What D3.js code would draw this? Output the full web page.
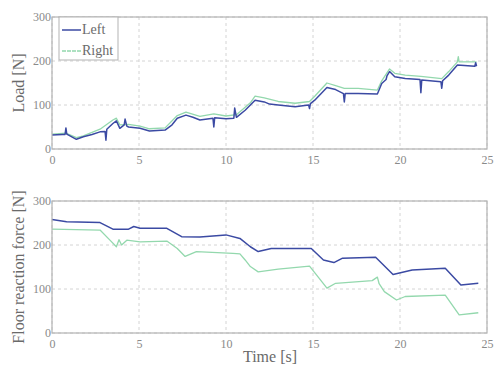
<!DOCTYPE html>
<html>
<head>
<meta charset="utf-8">
<script src="https://cdn.jsdelivr.net/npm/d3@7"></script>
<style>
  body { margin: 0; background: #fff; }
</style>
</head>
<body>
<svg id="chart" width="495" height="365"></svg>
<script>
// time [s] and load [N], top panel
const loadLeftT = [0, 0.6, 0.75, 0.8, 0.85, 1.4, 1.8, 2.3, 2.76, 3.05, 3.1, 3.15, 3.5, 3.7, 3.9, 4.15, 4.2, 4.3, 4.4, 5.06, 5.6, 6.5, 6.9, 7.2, 7.7, 8.1, 8.5, 9.25, 9.3, 9.35, 10.0, 10.45, 10.5, 10.6, 11.1, 11.4, 11.67, 12.2, 12.5, 13.0, 13.97, 14.75, 14.8, 14.85, 15.1, 15.8, 16.3, 16.75, 16.8, 16.85, 17.6, 18.7, 18.95, 19.2, 19.25, 19.4, 19.7, 20.3, 21.15, 21.2, 21.25, 22.35, 22.4, 22.45, 22.8, 23.3, 24.3, 24.35, 24.4];
const loadLeftV = [32, 33, 33, 48, 34, 22, 28, 33, 39, 40, 20, 45, 58, 64, 47, 55, 68, 52, 50, 47, 41, 43, 55, 70, 77, 72, 66, 70, 50, 71, 69, 70, 93, 72, 88, 100, 111, 107, 102, 100, 96, 100, 92, 103, 111, 140, 135, 126, 107, 126, 126, 125, 149, 158, 166, 176, 164, 160, 158, 128, 157, 153, 138, 155, 168, 191, 188, 196, 188];
const loadRightT = [0, 0.8, 1.4, 1.8, 2.76, 3.5, 3.7, 3.9, 4.4, 5.06, 5.6, 6.5, 7.2, 7.7, 8.5, 9.3, 10.0, 10.6, 11.1, 11.4, 11.67, 12.2, 13.0, 13.97, 14.8, 15.1, 15.8, 16.3, 16.8, 17.6, 18.7, 18.95, 19.4, 19.7, 20.3, 21.2, 22.4, 22.8, 23.3, 23.35, 23.4, 24.4];
const loadRightV = [34, 36, 26, 30, 45, 66, 70, 55, 56, 52, 46, 48, 76, 84, 74, 80, 75, 78, 95, 105, 120, 116, 108, 104, 108, 120, 150, 144, 138, 138, 134, 155, 182, 172, 168, 165, 160, 176, 198, 210, 198, 198];

// floor reaction force [N], bottom panel
const forceLeftT = [0, 0.84, 2.76, 3.5, 4.4, 4.7, 5.06, 6.6, 7.45, 8.5, 10.0, 10.8, 11.4, 11.85, 12.6, 13.97, 14.9, 15.6, 16.2, 16.7, 18.6, 19.6, 20.7, 22.6, 23.5, 24.5];
const forceLeftV = [258, 253, 251, 236, 236, 242, 238, 238, 219, 218, 223, 215, 196, 185, 192, 192, 192, 166, 160, 170, 172, 133, 143, 147, 109, 113];
const forceRightT = [0, 2.76, 3.33, 3.7, 3.85, 4.0, 4.3, 5.06, 6.6, 7.2, 7.65, 8.3, 10.4, 10.8, 11.1, 11.4, 11.85, 13.0, 14.8, 15.2, 15.8, 16.3, 18.4, 18.7, 18.8, 19.1, 19.8, 20.3, 22.6, 23.4, 24.5];
const forceRightV = [236, 234, 211, 196, 212, 200, 211, 207, 209, 192, 174, 185, 181, 180, 166, 151, 139, 145, 152, 132, 102, 113, 119, 127, 112, 94, 75, 83, 86, 41, 46];

const xTicks = [0, 5, 10, 15, 20, 25];
const yTicks = [0, 100, 200, 300];
const legendLabels = ["Left", "Right"];

const leftColor = "#3b4aa3";
const rightColor = "#93d8ad";
const serif = "'Liberation Serif', 'Times New Roman', serif";
const textColor = "#6a6a6a";
const tickColor = "#8a8a8a";

const svg = d3.select("#chart");
const x = d3.scaleLinear().domain([0, 25]).range([52, 487]);

function panel(top, bottom, series, ylabel, showLegend, xlabel) {
  const y = d3.scaleLinear().domain([0, 300]).range([bottom, top]);
  const g = svg.append("g");

  // grid
  g.selectAll(".gx").data(xTicks).join("line")
    .attr("x1", d => x(d)).attr("x2", d => x(d))
    .attr("y1", top).attr("y2", bottom)
    .attr("stroke", "#d4d4d4").attr("stroke-dasharray", "3,3");
  g.selectAll(".gy").data(yTicks).join("line")
    .attr("x1", x(0)).attr("x2", x(25))
    .attr("y1", d => y(d)).attr("y2", d => y(d))
    .attr("stroke", "#d4d4d4").attr("stroke-dasharray", "3,3");

  const line = d3.line().x(d => x(d[0])).y(d => y(d[1]));
  series.forEach(s => {
    const pts = d3.zip(s.t, s.v);
    g.append("path").datum(pts)
      .attr("d", line)
      .attr("fill", "none")
      .attr("stroke", s.color)
      .attr("stroke-width", s.width)
      .attr("stroke-linejoin", "round");
  });

  // frame
  g.append("rect")
    .attr("x", x(0)).attr("y", top)
    .attr("width", x(25) - x(0)).attr("height", bottom - top)
    .attr("fill", "none").attr("stroke", "#b3b3b3").attr("stroke-width", 1.2);

  // axes
  const ax = g.append("g").attr("transform", `translate(0,${bottom})`)
    .call(d3.axisBottom(x).tickValues(xTicks).tickSize(0).tickPadding(6));
  ax.select(".domain").remove();
  ax.selectAll("text").attr("font-size", 12).attr("fill", tickColor).attr("font-family", serif);

  const ay = g.append("g").attr("transform", `translate(${x(0)},0)`)
    .call(d3.axisLeft(y).tickValues(yTicks).tickSize(0).tickPadding(1));
  ay.select(".domain").remove();
  ay.selectAll("text").attr("font-size", 12).attr("fill", tickColor).attr("font-family", serif);

  g.append("text")
    .attr("transform", `translate(24,${(top + bottom) / 2}) rotate(-90)`)
    .attr("text-anchor", "middle")
    .attr("font-family", serif)
    .attr("fill", textColor)
    .attr("font-size", 16)
    .text(ylabel);

  if (xlabel) {
    g.append("text")
      .attr("x", 270).attr("y", 362)
      .attr("text-anchor", "middle")
      .attr("font-family", serif)
      .attr("fill", textColor)
      .attr("font-size", 16)
      .text(xlabel);
  }

  if (showLegend) {
    const lg = g.append("g");
    lg.append("rect").attr("x", 59).attr("y", 17).attr("width", 59).attr("height", 43)
      .attr("fill", "#fff").attr("stroke", "#b3b3b3");
    legendLabels.forEach((lab, i) => {
      const ly = 30 + i * 21;
      lg.append("line").attr("x1", 62).attr("x2", 81).attr("y1", ly).attr("y2", ly)
        .attr("stroke", i === 0 ? leftColor : rightColor)
        .attr("stroke-width", 1.5)
        .attr("stroke-dasharray", i === 0 ? null : "4,1");
      lg.append("text").attr("x", 82).attr("y", ly + 4)
        .attr("font-family", serif)
        .attr("fill", textColor)
        .attr("font-size", 14).text(lab);
    });
  }
}

panel(17, 149, [
  { t: loadRightT, v: loadRightV, color: rightColor, width: 1.3 },
  { t: loadLeftT, v: loadLeftV, color: leftColor, width: 1.5 }
], "Load [N]", true, null);

panel(201, 333, [
  { t: forceLeftT, v: forceLeftV, color: leftColor, width: 1.5 },
  { t: forceRightT, v: forceRightV, color: rightColor, width: 1.3 }
], "Floor reaction force [N]", false, "Time [s]");
</script>
</body>
</html>
